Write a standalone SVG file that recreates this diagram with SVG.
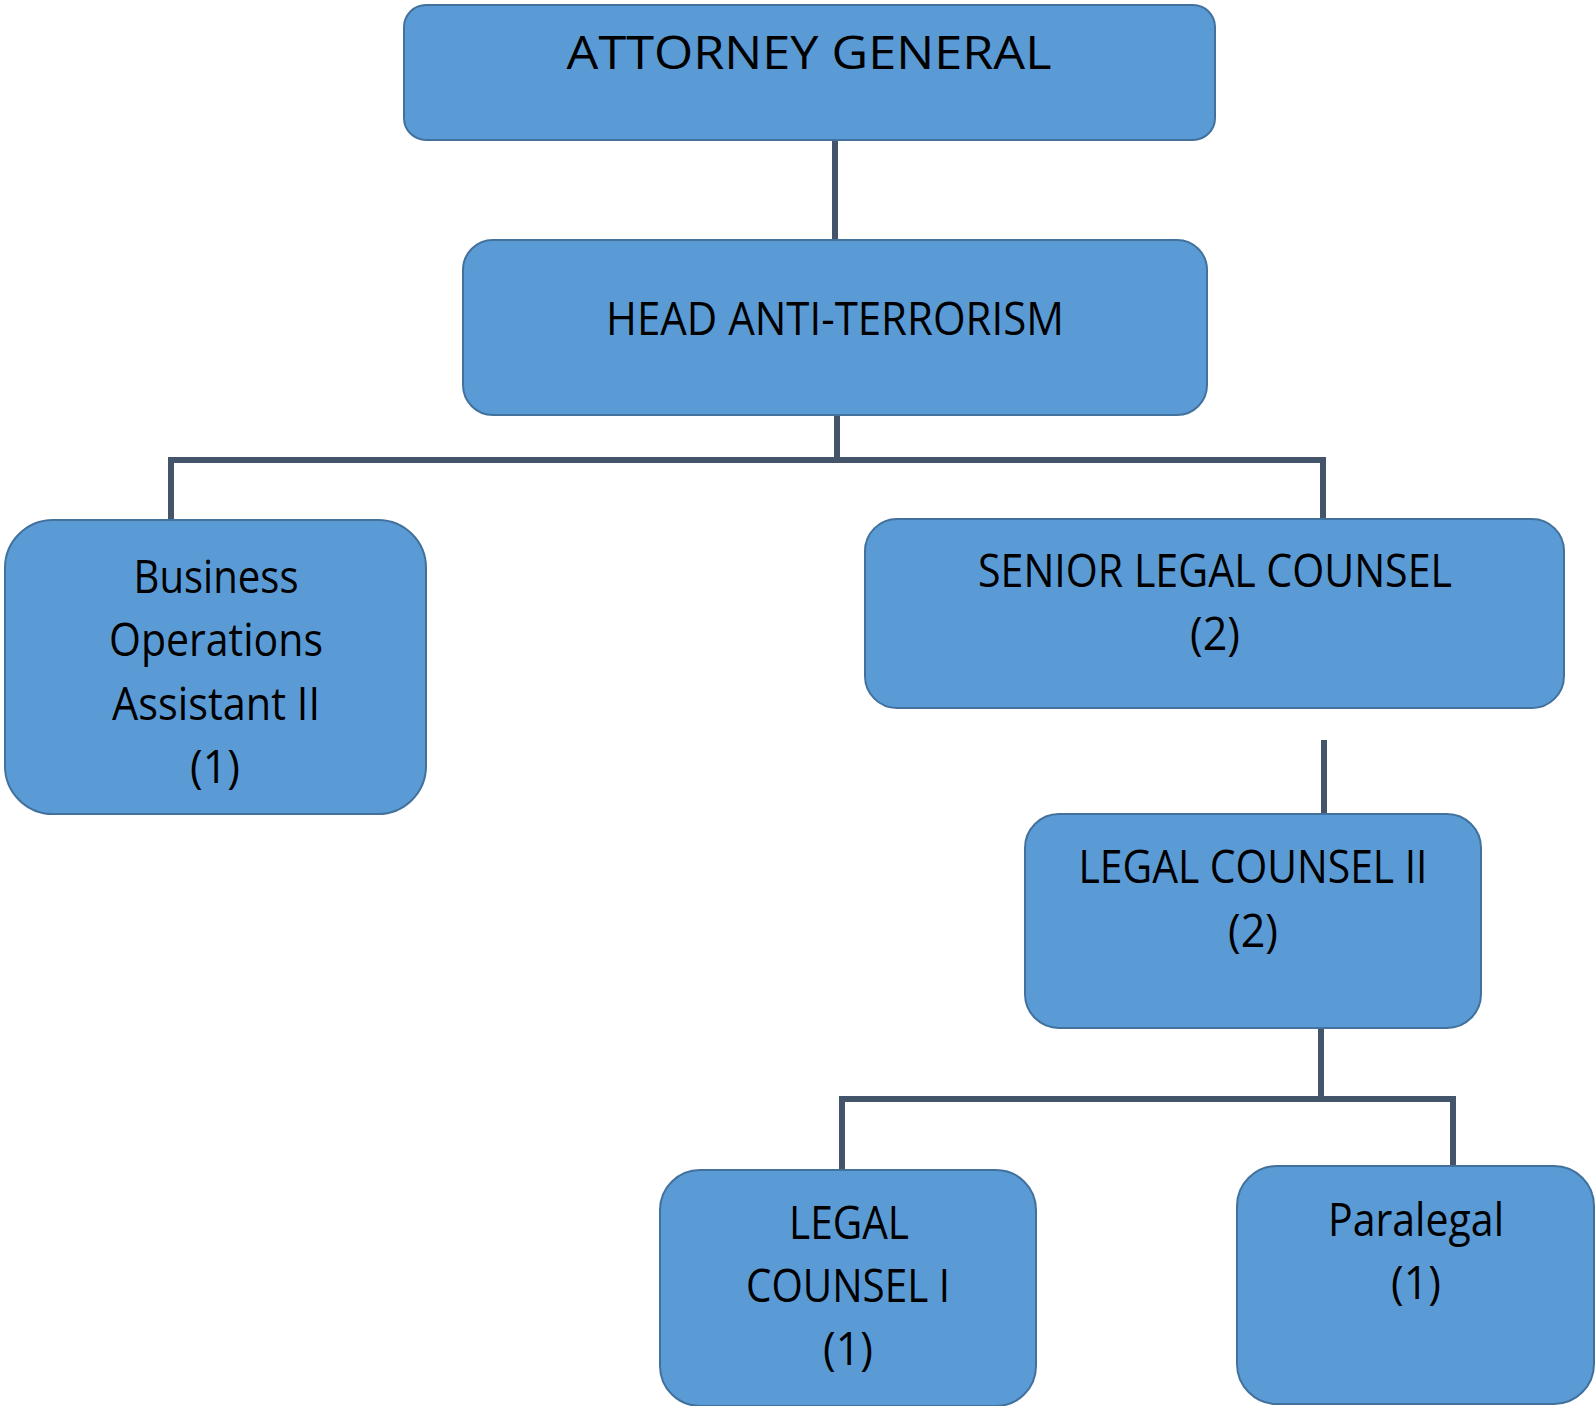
<svg xmlns="http://www.w3.org/2000/svg" width="1596" height="1406" viewBox="0 0 1596 1406">
<style>
.box{fill:#5B9BD5;stroke:#41719C;stroke-width:2}
.t{font-family:"Open Sans","Noto Sans","Liberation Sans",sans-serif;font-size:45px;fill:#000;text-anchor:middle}
.c{stroke:#44546A;stroke-width:6;fill:none}
</style>
<rect width="1596" height="1406" fill="#fff"/>
<g id="connectors">
<path class="c" d="M835 140 V240"/>
<path class="c" d="M837 415 V460 M171 460 H1323 M171 457 V520 M1323 457 V519"/>
<path class="c" d="M1324 740 V814"/>
<path class="c" d="M1321 1028 V1099 M839 1099 H1453 M842 1096 V1171 M1453 1096 V1166"/>
</g>
<g id="attorney-general">
<rect class="box" x="404" y="5" width="811" height="135" rx="22"/>
<text class="t" x="809" y="69" textLength="485" lengthAdjust="spacingAndGlyphs">ATTORNEY GENERAL</text>
</g>
<g id="head-anti-terrorism">
<rect class="box" x="463" y="240" width="744" height="175" rx="30"/>
<text class="t" x="835" y="335" textLength="458" lengthAdjust="spacingAndGlyphs">HEAD ANTI-TERRORISM</text>
</g>
<g id="business-operations">
<rect class="box" x="5" y="520" width="421" height="294" rx="48"/>
<text class="t" x="216" y="593" textLength="165" lengthAdjust="spacingAndGlyphs">Business</text>
<text class="t" x="216" y="656" textLength="214" lengthAdjust="spacingAndGlyphs">Operations</text>
<text class="t" x="216" y="720" textLength="208" lengthAdjust="spacingAndGlyphs">Assistant II</text>
<text class="t" x="215" y="783" textLength="50" lengthAdjust="spacingAndGlyphs">(1)</text>
</g>
<g id="senior-legal-counsel">
<rect class="box" x="865" y="519" width="699" height="189" rx="32"/>
<text class="t" x="1215" y="587" textLength="474" lengthAdjust="spacingAndGlyphs">SENIOR LEGAL COUNSEL</text>
<text class="t" x="1215" y="650" textLength="50" lengthAdjust="spacingAndGlyphs">(2)</text>
</g>
<g id="legal-counsel-ii">
<rect class="box" x="1025" y="814" width="456" height="214" rx="34"/>
<text class="t" x="1253" y="883" textLength="349" lengthAdjust="spacingAndGlyphs">LEGAL COUNSEL II</text>
<text class="t" x="1253" y="947" textLength="50" lengthAdjust="spacingAndGlyphs">(2)</text>
</g>
<g id="legal-counsel-i">
<rect class="box" x="660" y="1170" width="376" height="236" rx="40"/>
<text class="t" x="849" y="1239" textLength="120" lengthAdjust="spacingAndGlyphs">LEGAL</text>
<text class="t" x="848" y="1302" textLength="204" lengthAdjust="spacingAndGlyphs">COUNSEL I</text>
<text class="t" x="848" y="1365" textLength="50" lengthAdjust="spacingAndGlyphs">(1)</text>
</g>
<g id="paralegal">
<rect class="box" x="1237" y="1166" width="357" height="238" rx="40"/>
<text class="t" x="1416" y="1236" textLength="176" lengthAdjust="spacingAndGlyphs">Paralegal</text>
<text class="t" x="1416" y="1299" textLength="50" lengthAdjust="spacingAndGlyphs">(1)</text>
</g>
</svg>
